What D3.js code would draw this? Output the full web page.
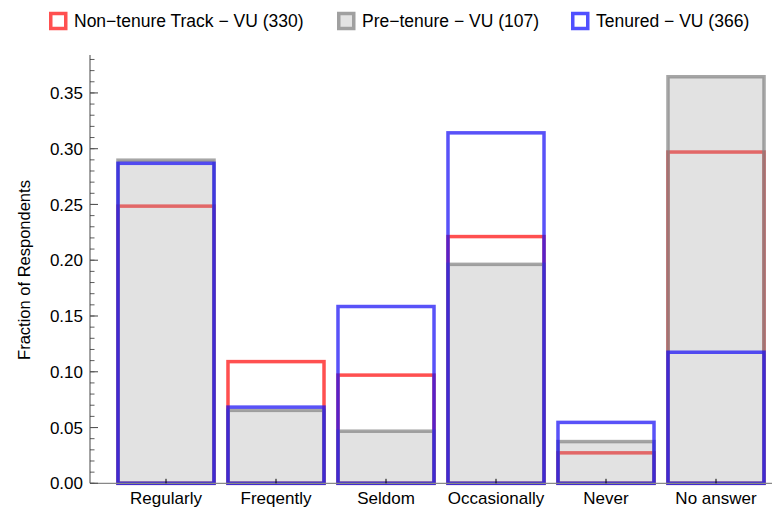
<!DOCTYPE html>
<html>
<head>
<meta charset="utf-8">
<script src="https://cdn.jsdelivr.net/npm/d3@7"></script>
<style>
  html, body { margin: 0; padding: 0; background: #fff; }
  svg { display: block; font-family: "Liberation Sans", Arial, sans-serif; }
</style>
</head>
<body>
<svg id="chart" width="772" height="513"></svg>
<script>
const categories = ["Regularly", "Freqently", "Seldom", "Occasionally", "Never", "No answer"];
const nonTenure = [0.2485, 0.1091, 0.0970, 0.2212, 0.0273, 0.2970];
const preTenure = [0.2897, 0.0654, 0.0467, 0.1963, 0.0374, 0.3645];
const tenured   = [0.2869, 0.0683, 0.1585, 0.3142, 0.0546, 0.1175];
const seriesNames = ["Non\u2212tenure Track \u2212 VU (330)", "Pre\u2212tenure \u2212 VU (107)", "Tenured \u2212 VU (366)"];
const yTickValues = [0, 0.05, 0.10, 0.15, 0.20, 0.25, 0.30, 0.35];

const svg = d3.select("#chart");
const axisX = 90, baseY = 483.3, topY = 55;

const x = d3.scaleBand().domain(categories).range([111, 771])
  .paddingInner(0.127).paddingOuter(0.0635);
const y = d3.scaleLinear().domain([0, 0.384]).range([baseY, topY]);

const SW = 3.5;
function rects(data, cls) {
  return svg.append("g").attr("class", cls).selectAll("rect")
    .data(data).join("rect")
    .attr("x", (d, i) => x(categories[i]))
    .attr("width", x.bandwidth())
    .attr("y", d => y(d))
    .attr("height", d => y(0) - y(d));
}

// Non-tenure (red outline)
rects(nonTenure, "red").attr("fill", "none")
  .attr("stroke", "rgb(255,80,80)").attr("stroke-width", SW);
// Pre-tenure (gray fill + gray outline)
rects(preTenure, "gray").attr("fill", "rgba(160,160,160,0.3)")
  .attr("stroke", "rgba(128,128,128,0.7)").attr("stroke-width", SW);
// Tenured (blue outline)
rects(tenured, "blue").attr("fill", "none")
  .attr("stroke", "rgba(25,15,245,0.72)").attr("stroke-width", SW);

// Axes
const axes = svg.append("g");
axes.append("line").attr("x1", axisX).attr("x2", 772).attr("y1", baseY).attr("y2", baseY)
  .attr("stroke", "#888").attr("stroke-width", 1.2);
axes.append("line").attr("x1", axisX).attr("x2", axisX).attr("y1", topY).attr("y2", baseY)
  .attr("stroke", "#666").attr("stroke-width", 1.2);

// minor y ticks
const minor = d3.range(0, 0.3845, 0.01).map(v => +v.toFixed(2));
axes.selectAll("line.minor").data(minor).join("line")
  .attr("x1", axisX).attr("x2", axisX + 4.5)
  .attr("y1", d => y(d)).attr("y2", d => y(d))
  .attr("stroke", "#333").attr("stroke-width", 0.8);
axes.selectAll("line.major").data(yTickValues).join("line")
  .attr("x1", axisX).attr("x2", axisX + 8)
  .attr("y1", d => y(d)).attr("y2", d => y(d))
  .attr("stroke", "#555").attr("stroke-width", 1.1);
axes.selectAll("text.ytick").data(yTickValues).join("text")
  .attr("x", axisX - 7).attr("y", d => y(d)).attr("dy", "0.36em")
  .attr("text-anchor", "end").attr("font-size", 17).attr("fill", "#000")
  .text(d => d3.format(".2f")(d));

// x ticks and labels
axes.selectAll("line.xtick").data(categories).join("line")
  .attr("x1", d => x(d) + x.bandwidth() / 2).attr("x2", d => x(d) + x.bandwidth() / 2)
  .attr("y1", baseY).attr("y2", baseY - 4.5)
  .attr("stroke", "#000").attr("stroke-width", 1);
axes.selectAll("text.xlab").data(categories).join("text")
  .attr("x", d => x(d) + x.bandwidth() / 2).attr("y", 504)
  .attr("text-anchor", "middle").attr("font-size", 17).attr("fill", "#000")
  .text(d => d);

// y label
svg.append("text").attr("transform", "translate(30,270) rotate(-90)")
  .attr("text-anchor", "middle").attr("font-size", 16.5).attr("fill", "#000")
  .text("Fraction of Respondents");

// Legend
const legendX = [49, 337, 571];
const legendStyles = [
  {stroke: "rgb(255,80,80)", fill: "#fff"},
  {stroke: "rgb(160,160,160)", fill: "#e3e3e3"},
  {stroke: "rgb(80,80,255)", fill: "#fff"}
];
const lg = svg.append("g").selectAll("g").data(seriesNames).join("g")
  .attr("transform", (d, i) => `translate(${legendX[i]},0)`);
lg.append("rect").attr("x", 1.75).attr("y", 13.5).attr("width", 15).attr("height", 15)
  .attr("fill", (d, i) => legendStyles[i].fill)
  .attr("stroke", (d, i) => legendStyles[i].stroke).attr("stroke-width", 3.5);
lg.append("text").attr("x", 25).attr("y", 27).attr("font-size", 17.5).attr("fill", "#000")
  .text(d => d);
</script>
</body>
</html>
